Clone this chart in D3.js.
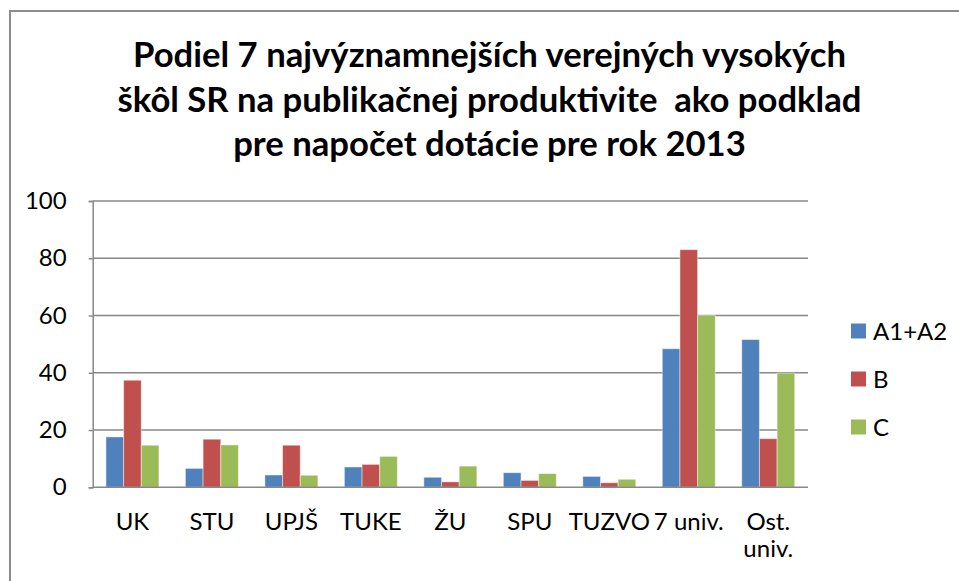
<!DOCTYPE html>
<html>
<head>
<meta charset="utf-8">
<script src="https://cdn.jsdelivr.net/npm/d3@7"></script>
<style>
    body { margin: 0; background: #ffffff; }
    svg { display: block; }
</style>
</head>
<body>
<svg id="chart"></svg>
<script>
let width = 959;
let height = 581;

// chart data
let categories = ["UK", "STU", "UPJŠ", "TUKE", "ŽU", "SPU", "TUZVO", "7 univ.", "Ost. univ."];
let seriesNames = ["A1+A2", "B", "C"];
let valuesA = [17.6, 6.6, 4.3, 7.1, 3.5, 5.1, 3.8, 48.4, 51.6];
let valuesB = [37.4, 16.8, 14.7, 8.0, 1.9, 2.4, 1.6, 83.0, 17.0];
let valuesC = [14.7, 14.8, 4.2, 10.8, 7.4, 4.8, 2.8, 60.1, 39.9];
let yTicks = [0, 20, 40, 60, 80, 100];
let titleLines = [
    "Podiel 7 najvýznamnejších verejných vysokých",
    "škôl SR na publikačnej produktivite  ako podklad",
    "pre napočet dotácie pre rok 2013"
];

let colors = ["#4f81bd", "#c0504d", "#9bbb59"];
let font = "Lato, 'Open Sans', sans-serif";

// plot area
let plot = { left: 92.7, right: 808, top: 201, bottom: 487.3 };

let svg = d3.select("#chart")
    .attr("width", width)
    .attr("height", height)
    .style("background", "#ffffff");

// outer chart border (right and bottom sides are cut off)
svg.append("rect")
    .attr("x", 10)
    .attr("y", 11)
    .attr("width", 1000)
    .attr("height", 1000)
    .attr("fill", "none")
    .attr("stroke", "#8c8c8c")
    .attr("stroke-width", 2);

// title
let title = svg.append("g")
    .attr("font-family", font)
    .attr("font-weight", "bold")
    .attr("fill", "#000000");

let titleBaselines = [67, 111.5, 156];
let titleText = title.selectAll("text")
    .data(titleLines)
    .enter()
    .append("text")
    .attr("x", 489.5)
    .attr("y", function (d, i) { return titleBaselines[i]; })
    .attr("text-anchor", "middle")
    .style("white-space", "pre")
    .attr("font-size", 34)
    .text(function (d) { return d; });

// scale the title font so the first line is as wide as in the picture
let firstWidth = titleText.node().getComputedTextLength();
titleText.attr("font-size", 34 * 713 / firstWidth);

// scales
let x = d3.scaleBand()
    .domain(categories)
    .range([plot.left, plot.right])
    .paddingInner(1 / 3)
    .paddingOuter(1 / 6);

let xSeries = d3.scaleBand()
    .domain(seriesNames)
    .range([0, x.bandwidth()]);

let y = d3.scaleLinear()
    .domain([0, 100])
    .range([plot.bottom, plot.top]);

let color = d3.scaleOrdinal()
    .domain(seriesNames)
    .range(colors);

// gridlines
svg.append("g")
    .selectAll("line")
    .data(yTicks.slice(1))
    .enter()
    .append("line")
    .attr("x1", plot.left)
    .attr("x2", plot.right)
    .attr("y1", function (d) { return y(d); })
    .attr("y2", function (d) { return y(d); })
    .attr("stroke", "#888888")
    .attr("stroke-width", 1.5);

// y axis
let yAxis = svg.append("g")
    .attr("transform", "translate(" + plot.left + ",0)")
    .call(d3.axisLeft(y).tickValues(yTicks).tickSize(4).tickPadding(22));

yAxis.selectAll("path, line")
    .attr("stroke", "#888888")
    .attr("stroke-width", 1.5);
yAxis.selectAll("text")
    .attr("font-family", font)
    .attr("font-size", 24)
    .attr("fill", "#000000");

// bars
let rows = categories.map(function (c, i) {
    return { category: c, values: [valuesA[i], valuesB[i], valuesC[i]] };
});

let groups = svg.append("g")
    .selectAll("g")
    .data(rows)
    .enter()
    .append("g")
    .attr("transform", function (d) { return "translate(" + x(d.category) + ",0)"; });

groups.selectAll("rect")
    .data(function (d) {
        return seriesNames.map(function (s, j) { return { series: s, value: d.values[j] }; });
    })
    .enter()
    .append("rect")
    .attr("x", function (d) { return xSeries(d.series); })
    .attr("width", xSeries.bandwidth())
    .attr("y", function (d) { return y(d.value); })
    .attr("height", function (d) { return y(0) - y(d.value); })
    .attr("fill", function (d) { return color(d.series); })
    .attr("stroke", "#ffffff")
    .attr("stroke-opacity", 0.45)
    .attr("stroke-width", 1);

// x axis line
svg.append("line")
    .attr("x1", plot.left)
    .attr("x2", plot.right)
    .attr("y1", y(0))
    .attr("y2", y(0))
    .attr("stroke", "#888888")
    .attr("stroke-width", 1.5);

// category labels, "Ost. univ." wraps onto two lines
let xLabels = svg.append("g")
    .attr("font-family", font)
    .attr("font-size", 24)
    .attr("fill", "#000000")
    .attr("text-anchor", "middle");

categories.forEach(function (c) {
    let lines = c === "Ost. univ." ? ["Ost.", "univ."] : [c];
    let t = xLabels.append("text")
        .attr("x", x(c) + x.bandwidth() / 2)
        .attr("y", 530);
    lines.forEach(function (l, i) {
        t.append("tspan")
            .attr("x", x(c) + x.bandwidth() / 2)
            .attr("dy", i === 0 ? 0 : 27)
            .text(l);
    });
});

// legend
let legend = svg.append("g")
    .attr("font-family", font)
    .attr("font-size", 24);

let legendItem = legend.selectAll("g")
    .data(seriesNames)
    .enter()
    .append("g")
    .attr("transform", function (d, i) { return "translate(851," + (331 + i * 48) + ")"; });

legendItem.append("rect")
    .attr("x", 0)
    .attr("y", -7.5)
    .attr("width", 15)
    .attr("height", 15)
    .attr("fill", function (d) { return color(d); });

legendItem.append("text")
    .attr("x", 22)
    .attr("y", 8.5)
    .attr("fill", "#000000")
    .text(function (d) { return d; });
</script>
</body>
</html>
